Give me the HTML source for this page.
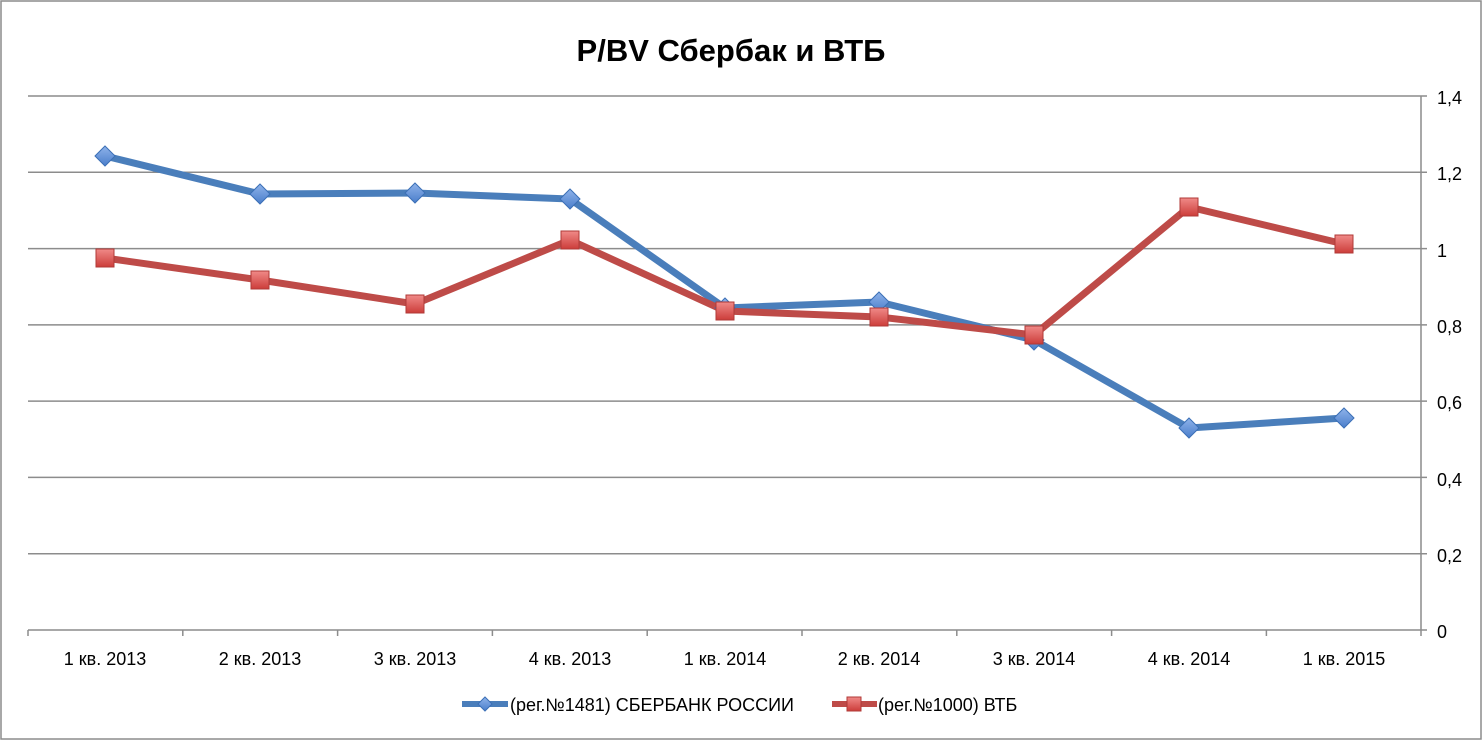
<!DOCTYPE html>
<html><head><meta charset="utf-8"><style>body{margin:0;background:#fff}svg{display:block}text{font-family:"Liberation Sans",sans-serif}</style></head><body>
<svg width="1483" height="742" viewBox="0 0 1483 742" xmlns="http://www.w3.org/2000/svg">
<defs>
<linearGradient id="gb" x1="0" y1="0" x2="0" y2="1"><stop offset="0" stop-color="#8fb3ea"/><stop offset="1" stop-color="#4a7ecb"/></linearGradient>
<linearGradient id="gr" x1="0" y1="0" x2="0" y2="1"><stop offset="0" stop-color="#f08a88"/><stop offset="1" stop-color="#cc3d3a"/></linearGradient>
</defs>
<rect x="1" y="1" width="1480" height="738" fill="#fff" stroke="#8c8c8c" stroke-width="1.5"/>
<text x="731" y="61" text-anchor="middle" font-size="31" font-weight="bold" fill="#000">P/BV Сбербак и ВТБ</text>
<g stroke="#8c8c8c" stroke-width="1.5">
<line x1="28" y1="96" x2="1427" y2="96"/><line x1="28" y1="172.3" x2="1427" y2="172.3"/><line x1="28" y1="248.6" x2="1427" y2="248.6"/><line x1="28" y1="324.9" x2="1427" y2="324.9"/><line x1="28" y1="401.1" x2="1427" y2="401.1"/><line x1="28" y1="477.4" x2="1427" y2="477.4"/><line x1="28" y1="553.7" x2="1427" y2="553.7"/><line x1="28" y1="630" x2="1427" y2="630"/>
<line x1="1421" y1="96" x2="1421" y2="630"/>
<line x1="28" y1="630" x2="28" y2="636"/><line x1="182.8" y1="630" x2="182.8" y2="636"/><line x1="337.6" y1="630" x2="337.6" y2="636"/><line x1="492.4" y1="630" x2="492.4" y2="636"/><line x1="647.2" y1="630" x2="647.2" y2="636"/><line x1="802" y1="630" x2="802" y2="636"/><line x1="956.8" y1="630" x2="956.8" y2="636"/><line x1="1111.6" y1="630" x2="1111.6" y2="636"/><line x1="1266.4" y1="630" x2="1266.4" y2="636"/><line x1="1421" y1="630" x2="1421" y2="636"/>
</g>
<g font-size="18" fill="#000">
<text x="1437" y="104">1,4</text><text x="1437" y="180">1,2</text><text x="1437" y="257">1</text><text x="1437" y="333">0,8</text><text x="1437" y="409">0,6</text><text x="1437" y="486">0,4</text><text x="1437" y="562">0,2</text><text x="1437" y="638">0</text>
</g>
<g font-size="18" fill="#000" text-anchor="middle">
<text x="105" y="665">1 кв. 2013</text><text x="260" y="665">2 кв. 2013</text><text x="415" y="665">3 кв. 2013</text><text x="570" y="665">4 кв. 2013</text><text x="725" y="665">1 кв. 2014</text><text x="879" y="665">2 кв. 2014</text><text x="1034" y="665">3 кв. 2014</text><text x="1189" y="665">4 кв. 2014</text><text x="1344" y="665">1 кв. 2015</text>
</g>
<polyline fill="none" stroke="#4a7ebb" stroke-width="7" stroke-linejoin="round" points="105,156 260,194 415,193 570,199 725,308 879,302 1034,340 1189,428 1344,418"/>
<polyline fill="none" stroke="#be4b48" stroke-width="7" stroke-linejoin="round" points="105,258 260,280 415,304 570,240 725,311 879,317 1034,335 1189,207 1344,244"/>
<g fill="url(#gb)" stroke="#3b6fb6" stroke-width="1">
<path d="M105,146l10,10l-10,10l-10,-10z"/><path d="M260,184l10,10l-10,10l-10,-10z"/><path d="M415,183l10,10l-10,10l-10,-10z"/><path d="M570,189l10,10l-10,10l-10,-10z"/><path d="M725,298l10,10l-10,10l-10,-10z"/><path d="M879,292l10,10l-10,10l-10,-10z"/><path d="M1034,330l10,10l-10,10l-10,-10z"/><path d="M1189,418l10,10l-10,10l-10,-10z"/><path d="M1344,408l10,10l-10,10l-10,-10z"/>
</g>
<g fill="url(#gr)" stroke="#b03a37" stroke-width="1">
<rect x="96" y="249" width="18" height="18"/><rect x="251" y="271" width="18" height="18"/><rect x="406" y="295" width="18" height="18"/><rect x="561" y="231" width="18" height="18"/><rect x="716" y="302" width="18" height="18"/><rect x="870" y="308" width="18" height="18"/><rect x="1025" y="326" width="18" height="18"/><rect x="1180" y="198" width="18" height="18"/><rect x="1335" y="235" width="18" height="18"/>
</g>
<line x1="462" y1="704" x2="508" y2="704" stroke="#4a7ebb" stroke-width="6"/>
<path d="M485,697l7,7l-7,7l-7,-7z" fill="url(#gb)" stroke="#3b6fb6"/>
<text x="510" y="711" font-size="18">(рег.№1481) СБЕРБАНК РОССИИ</text>
<line x1="832" y1="704" x2="877" y2="704" stroke="#be4b48" stroke-width="6"/>
<rect x="847" y="697" width="14" height="14" fill="url(#gr)" stroke="#b03a37"/>
<text x="878" y="711" font-size="18">(рег.№1000) ВТБ</text>
</svg>
</body></html>
